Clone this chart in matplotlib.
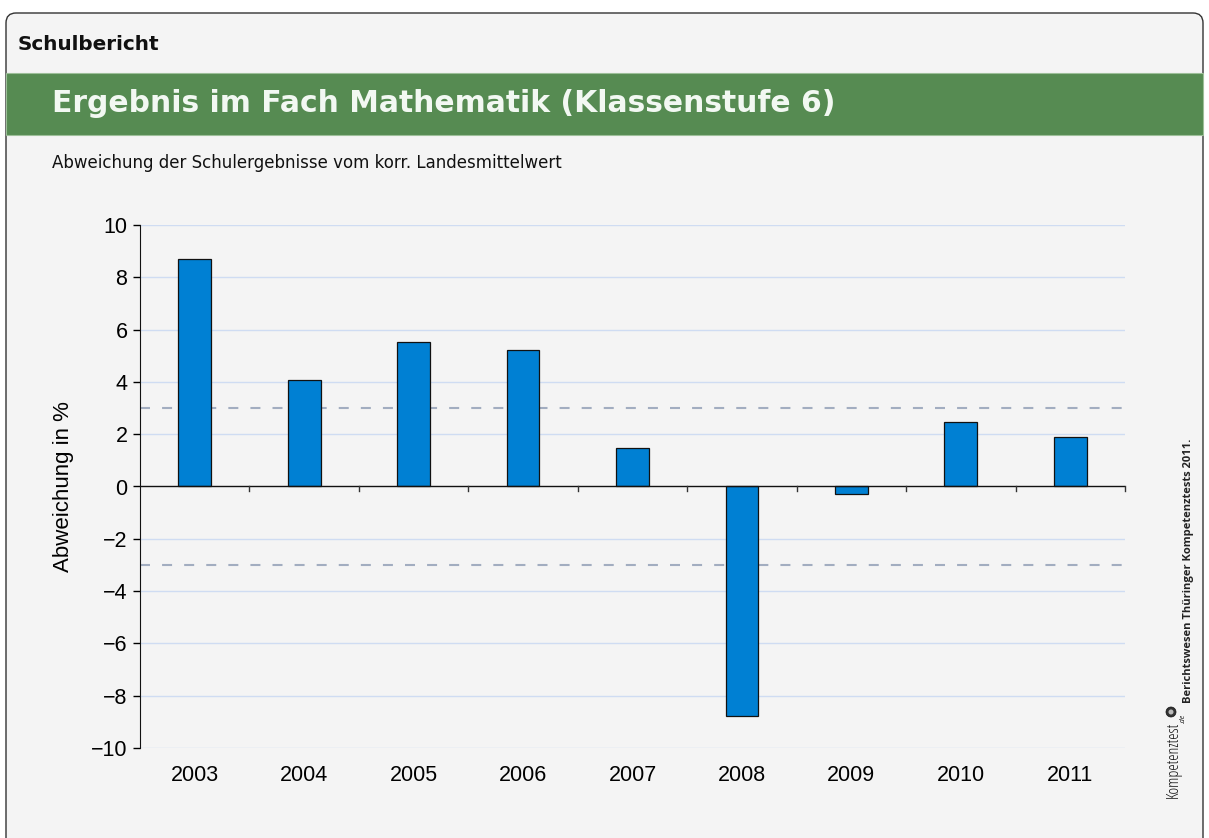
import matplotlib
matplotlib.use("Agg")
import matplotlib.pyplot as plt
from matplotlib.patches import FancyBboxPatch, Rectangle, Circle
import numpy as np

years = ["2003", "2004", "2005", "2006", "2007", "2008", "2009", "2010", "2011"]
values = [8.70, 4.08, 5.53, 5.23, 1.49, -8.78, -0.27, 2.48, 1.91]
y_ticks = [10, 8, 6, 4, 2, 0, -2, -4, -6, -8, -10]
threshold = 3

W, H = 1209, 838
fig = plt.figure(figsize=(W / 100, H / 100), dpi=100)
fig.patch.set_facecolor("white")

bg = fig.add_axes([0, 0, 1, 1])
bg.set_xlim(0, W)
bg.set_ylim(H, 0)
bg.axis("off")
bg.add_patch(FancyBboxPatch((6, 13), W - 12, H + 40, boxstyle="round,pad=0,rounding_size=10",
                            facecolor="#f4f4f4", edgecolor="#333333", linewidth=1.0))
bg.add_patch(Rectangle((6, 73), W - 12, 62, facecolor="#568b52", edgecolor="#9dbf99", linewidth=0.8))
bg.text(18, 44, "Schulbericht", fontsize=14.4, fontweight="bold", family="DejaVu Sans",
        va="center", ha="left", color="#111111")
bg.text(52, 104, "Ergebnis im Fach Mathematik (Klassenstufe 6)", fontsize=21.4, fontweight="bold",
        family="DejaVu Sans", va="center", ha="left", color="#f2f8f2")
bg.text(52, 163, "Abweichung der Schulergebnisse vom korr. Landesmittelwert", fontsize=12,
        family="DejaVu Sans", va="center", ha="left", color="#111111")
bg.text(1188, 571, "Berichtswesen Thüringer Kompetenztests 2011.", fontsize=8, fontweight="bold",
        family="Open Sans", rotation=90, va="center", ha="center", color="#222222")
bg.text(1174, 760, "Kompetenztest", fontsize=11.5, family="Open Sans", rotation=90,
        va="center", ha="center", color="#111111", fontstretch="condensed")
bg.text(1183, 718, ".de", fontsize=5, family="Open Sans", rotation=90,
        va="center", ha="center", color="#111111", style="italic")
bg.add_patch(Circle((1171, 712), 5, facecolor="#333333", edgecolor="#111111", linewidth=0.5))
bg.add_patch(Circle((1171, 712), 2.5, facecolor="#bbbbbb", edgecolor="none"))

ax = fig.add_axes([140 / W, 1 - 748 / H, (1125 - 140) / W, (748 - 225) / H])
ax.set_facecolor("none")
x = np.arange(len(years))
for t in y_ticks:
    if t != 0:
        ax.axhline(t, color="#cfdcf2", linewidth=1.0, zorder=0)
ax.axhline(threshold, color="#a2adc0", linewidth=1.5, linestyle=(0, (4.8, 5.8)), zorder=1)
ax.axhline(-threshold, color="#a2adc0", linewidth=1.5, linestyle=(0, (4.8, 5.8)), zorder=1)
ax.bar(x, values, width=0.3, color="#0080d3", edgecolor="#111111", linewidth=0.9, zorder=2)
ax.axhline(0, color="#111111", linewidth=1.0, zorder=3)
for b in np.arange(0.5, len(years), 1.0):
    ax.plot([b, b], [0, -0.18], color="#333333", linewidth=1.0, zorder=3, clip_on=False)

ax.set_xlim(-0.5, len(years) - 0.5)
ax.set_ylim(-10, 10)
ax.set_yticks(y_ticks)
ax.set_yticklabels([str(t).replace("-", "\u2212") for t in y_ticks], fontsize=15.5, family="Liberation Sans")
ax.set_xticks(x)
ax.set_xticklabels(years, fontsize=15.5, family="Liberation Sans")
ax.tick_params(axis="x", length=0, pad=12)
ax.tick_params(axis="y", length=5, width=1, direction="out", pad=4)
for s in ["top", "right", "bottom"]:
    ax.spines[s].set_visible(False)
ax.spines["left"].set_color("#111111")
ax.set_ylabel("Abweichung in %", fontsize=16, family="Liberation Sans", labelpad=12)

fig.savefig("out.png", dpi=100, facecolor="white")
